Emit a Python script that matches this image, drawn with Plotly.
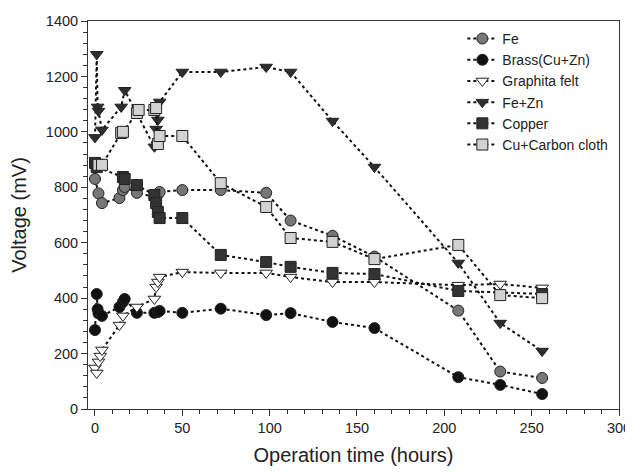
import plotly.graph_objects as go

# ---- data ----
fe_t = [0, 2, 4, 14, 16, 17, 24, 34, 36, 37, 50, 72, 98, 112, 136, 160, 208, 232, 256]
fe_v = [830, 778, 743, 761, 790, 801, 780, 765, 775, 783, 790, 790, 780, 680, 625, 550, 355, 135, 112]

brass_t = [0, 1, 1.5, 2, 4, 14, 16, 17, 24, 34, 36, 37, 50, 72, 98, 112, 136, 160, 208, 232, 256]
brass_v = [285, 415, 360, 345, 336, 368, 386, 397, 347, 347, 350, 354, 347, 362, 339, 346, 314, 292, 115, 87, 54]

felt_t = [0, 1, 2, 3, 4, 14, 16, 24, 34, 35, 36, 37, 50, 72, 98, 112, 136, 160, 208, 232, 256]
felt_v = [148, 130, 170, 191, 213, 303, 336, 368, 397, 440, 458, 476, 494, 491, 491, 476, 458, 458, 447, 451, 437]

fezn_t = [0, 1, 1.5, 2, 4, 15, 17, 34, 35, 36, 37, 50, 72, 98, 112, 136, 160, 208, 232, 256]
fezn_v = [980, 1280, 1090, 1075, 1007, 1090, 1150, 946, 1010, 1043, 1108, 1216, 1216, 1234, 1216, 1039, 873, 527, 310, 209]

cu_t = [0, 1, 16, 17, 24, 34, 35, 36, 37, 50, 72, 98, 112, 136, 160, 208, 256]
cu_v = [888, 873, 837, 830, 808, 772, 743, 711, 689, 689, 556, 530, 513, 491, 487, 426, 415]

cucc_t = [2, 4, 15, 16, 24, 25, 34, 35, 36, 37, 50, 72, 98, 112, 136, 160, 208, 232, 256]
cucc_v = [881, 881, 996, 1000, 1068, 1079, 1079, 1086, 956, 985, 985, 815, 729, 617, 603, 541, 592, 411, 400]

series = [
    ("Fe", fe_t, fe_v, "circle", "#777777"),
    ("Brass(Cu+Zn)", brass_t, brass_v, "circle", "#111111"),
    ("Graphita felt", felt_t, felt_v, "triangle-down", "#ffffff"),
    ("Fe+Zn", fezn_t, fezn_v, "triangle-down", "#2e2e2e"),
    ("Copper", cu_t, cu_v, "square", "#333333"),
    ("Cu+Carbon cloth", cucc_t, cucc_v, "square", "#d2d2d2"),
]

fig = go.Figure()
for name, t, v, sym, col in series:
    fig.add_trace(go.Scatter(
        x=t, y=v, name=name, mode="lines+markers",
        line=dict(color="#111111", width=2, dash="dot"),
        marker=dict(symbol=sym, size=11, color=col,
                    line=dict(color="#222222", width=1)),
    ))

font_family = "Liberation Sans, Arial, sans-serif"
# page body adds an 8px offset, so the figure is sized to fit the window
fig.update_layout(
    width=625, height=465,
    margin=dict(l=80, r=14, t=13, b=64),
    paper_bgcolor="white", plot_bgcolor="white",
    font=dict(family=font_family, color="#222222", size=14),
    showlegend=True,
    legend=dict(x=0.705, y=0.995, xanchor="left", yanchor="top",
                bgcolor="rgba(0,0,0,0)", font=dict(size=14),
                tracegroupgap=0, itemwidth=30),
)
fig.update_xaxes(
    range=[-4, 300], tickmode="array", tickvals=[0, 50, 100, 150, 200, 250, 300],
    automargin=False,
    showgrid=False, zeroline=False, showline=True, linecolor="#333333", linewidth=1,
    mirror=True, ticks="outside", ticklen=6, tickcolor="#333333",
    minor=dict(ticks="outside", ticklen=4, dtick=10, tick0=0, tickcolor="#333333"),
    title=dict(text="Operation time (hours)", font=dict(size=20), standoff=12),
    tickfont=dict(size=14.5),
)
fig.update_yaxes(
    range=[0, 1400], dtick=200,
    automargin=False,
    showgrid=False, zeroline=False, showline=True, linecolor="#333333", linewidth=1,
    mirror=True, ticks="outside", ticklen=6, tickcolor="#333333",
    minor=dict(ticks="outside", ticklen=4, dtick=40, tick0=0, tickcolor="#333333"),
    title=dict(text="Voltage (mV)", font=dict(size=20), standoff=22),
    tickfont=dict(size=14.5),
)

fig.write_html("out.html")
